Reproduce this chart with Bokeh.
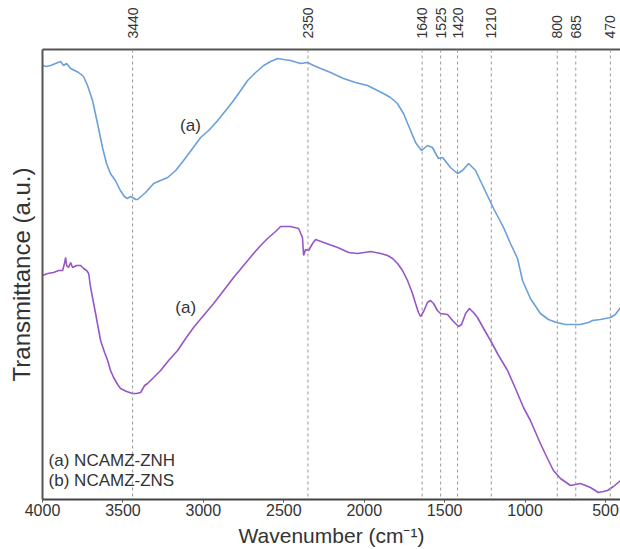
import math
from bokeh.plotting import figure
from bokeh.models import Range1d, LinearAxis, FixedTicker, Span, Label
from bokeh.embed import file_html
from bokeh.resources import INLINE

# (a) NCAMZ-ZNH spectrum (wavenumber, transmittance a.u.)
blue_wn = [4000, 3975, 3950, 3919, 3888, 3869, 3850, 3825, 3800, 3776, 3745, 3720, 3689, 3658,
           3627, 3602, 3578, 3547, 3516, 3491, 3473, 3452, 3440, 3421, 3409, 3359, 3309, 3266,
           3222, 3172, 3123, 3067, 3017, 2967, 2911, 2861, 2812, 2768, 2725, 2675, 2625, 2582,
           2538, 2501, 2458, 2396, 2352, 2315, 2271, 2209, 2129, 2054, 1980, 1930, 1881, 1837,
           1794, 1756, 1712, 1681, 1644, 1607, 1576, 1539, 1513, 1464, 1420, 1389, 1351, 1308,
           1258, 1196, 1134, 1091, 1047, 1016, 967, 905, 855, 805, 749, 699, 656, 606, 581,
           532, 470, 439, 407]
blue_t = [434, 433, 434, 436, 438, 434, 436, 431, 429, 427, 423, 414, 399, 376,
          352, 336, 326, 319, 309, 303, 301, 303, 302, 300, 300, 307, 316, 319,
          322, 329, 339, 351, 362, 369, 379, 389, 399, 409, 419, 427, 434, 438,
          441, 440, 439, 436, 437, 434, 431, 427, 421, 417, 414, 410, 406, 402,
          396, 386, 369, 357, 349, 354, 352, 341, 342, 332, 326, 329, 336, 329,
          312, 291, 272, 256, 241, 219, 201, 186, 180, 177, 175, 175, 175, 177, 179,
          180, 182, 185, 192]

# (b) NCAMZ-ZNS spectrum
purple_wn = [4000, 3968, 3931, 3900, 3875, 3862, 3856, 3850, 3838, 3825, 3813, 3788, 3763, 3744,
             3726, 3713, 3701, 3670, 3639, 3614, 3595, 3577, 3558, 3533, 3515, 3477, 3440, 3415,
             3390, 3365, 3347, 3309, 3266, 3216, 3160, 3110, 3061, 2999, 2936, 2874, 2812, 2750,
             2688, 2644, 2601, 2551, 2520, 2458, 2408, 2384, 2377, 2365, 2346, 2321, 2302, 2252,
             2165, 2097, 2041, 1960, 1898, 1855, 1824, 1793, 1762, 1731, 1700, 1681, 1663, 1650,
             1631, 1607, 1588, 1569, 1545, 1526, 1482, 1451, 1414, 1395, 1370, 1346, 1321, 1296,
             1258, 1215, 1165, 1109, 1060, 1010, 967, 905, 861, 824, 780, 718, 656, 594, 544,
             513, 488, 451, 407]
purple_t = [224, 226, 227, 229, 229, 237, 242, 234, 232, 237, 232, 234, 234, 231,
            229, 226, 212, 186, 159, 147, 139, 129, 122, 115, 111, 108, 106, 106,
            107, 114, 116, 122, 129, 139, 149, 161, 172, 184, 196, 209, 222, 234,
            246, 254, 261, 268, 273, 273, 271, 262, 244, 250, 249, 256, 260, 257,
            252, 247, 246, 248, 246, 244, 241, 236, 229, 219, 206, 196, 187, 183,
            188, 197, 199, 196, 189, 186, 185, 179, 173, 175, 186, 191, 187, 182,
            171, 159, 144, 129, 111, 92, 79, 56, 41, 29, 21, 14, 16, 12, 7,
            8, 9, 13, 19]

peak_wn = [3440, 2350, 1640, 1525, 1420, 1210, 800, 685, 470]
x_ticks = [4000, 3500, 3000, 2500, 2000, 1500, 1000, 500]
legend_lines = ["(a) NCAMZ-ZNH", "(b) NCAMZ-ZNS"]
curve_tags = ["(a)", "(a)"]
y_title = "Transmittance (a.u.)"

FONT = "Liberation Sans"
TXT = "#333333"
AX = "#555555"

p = figure(width=620, height=549, x_range=Range1d(4000, 407), y_range=Range1d(0, 450),
           output_backend="svg", toolbar_location=None,
           min_border_left=42, min_border_right=0, min_border_top=49, min_border_bottom=50)
p.outline_line_color = None
p.grid.visible = False
p.background_fill_color = "white"

# bottom axis
xa = p.xaxis[0]
xa.ticker = FixedTicker(ticks=x_ticks)
xa.major_tick_out = 3
xa.major_tick_in = 0
xa.minor_tick_line_color = None
xa.major_tick_line_color = AX
xa.axis_line_color = "#444444"
xa.axis_line_width = 2
xa.major_label_standoff = 1
xa.major_label_text_font = FONT
xa.major_label_text_font_size = "16px"
xa.major_label_text_color = TXT
xa.axis_label = "Wavenumber (cm\u207b\u00b9)"
xa.axis_label_text_font = FONT
xa.axis_label_text_font_size = "21px"
xa.axis_label_text_font_style = "normal"
xa.axis_label_text_color = TXT
xa.axis_label_standoff = 5

# left axis (no ticks)
ya = p.yaxis[0]
ya.ticker = FixedTicker(ticks=[])
ya.major_tick_line_color = None
ya.minor_tick_line_color = None
ya.axis_line_color = AX
ya.axis_line_width = 2
ya.axis_label = y_title
ya.axis_label_text_font = FONT
ya.axis_label_text_font_size = "24px"
ya.axis_label_text_font_style = "normal"
ya.axis_label_text_color = TXT
ya.axis_label_standoff = 8

# top axis with peak labels
top = LinearAxis(ticker=FixedTicker(ticks=peak_wn))
top.major_tick_line_color = None
top.minor_tick_line_color = None
top.axis_line_color = AX
top.axis_line_width = 2
top.major_label_orientation = "vertical"
top.major_label_standoff = 5
top.major_label_text_font = FONT
top.major_label_text_font_size = "14px"
top.major_label_text_color = TXT
p.add_layout(top, "above")

for w in peak_wn:
    p.add_layout(Span(location=w, dimension="height", line_color="#999999",
                      line_dash="3 3", line_width=1))

p.line(blue_wn, blue_t, line_color="#6a9fdc", line_width=1.6)
p.line(purple_wn, purple_t, line_color="#9656c8", line_width=1.6)

p.add_layout(Label(x=3080, y=374, text=curve_tags[0], text_font=FONT, text_font_size="17px",
                   text_color=TXT, text_align="center", text_baseline="middle"))
p.add_layout(Label(x=3110, y=192, text=curve_tags[1], text_font=FONT, text_font_size="17px",
                   text_color=TXT, text_align="center", text_baseline="middle"))
for i, s in enumerate(legend_lines):
    p.add_layout(Label(x=3962, y=[39, 19][i], text=s, text_font=FONT, text_font_size="17px",
                       text_color=TXT, text_align="left", text_baseline="middle"))

open("out.html", "w").write(file_html(p, INLINE))
